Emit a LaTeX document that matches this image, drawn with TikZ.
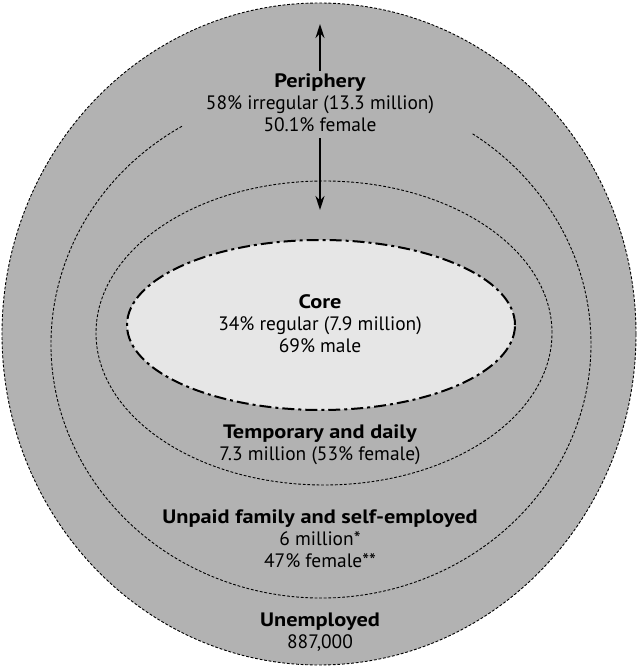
\documentclass[tikz,border=0pt]{standalone}
\usepackage{fontspec}
\setmainfont{PT Sans}[BoldFeatures={FakeStretch=1.15}]
\usetikzlibrary{arrows.meta,calc}
\definecolor{ringgray}{RGB}{178,178,178}
\definecolor{coregray}{RGB}{230,230,230}
\tikzset{
  fineline/.style={line width=0.9bp, dash pattern=on 2.8bp off 1.8bp},
  coreline/.style={line width=2bp, dash pattern=on 12bp off 4bp on 3bp off 4bp},
  label/.style={align=center, font=\fontsize{19.5}{22}\selectfont, inner sep=0pt},
  flow/.style={line width=1.8bp, -{Stealth[length=14bp, width=9bp]}},
}
\begin{document}
\begin{tikzpicture}[x=1bp, y=1bp]
\useasboundingbox (0,0) rectangle (638,667);
% outer ring: the whole labour force
\fill[ringgray] (319,333) ellipse[x radius=317, y radius=331];
\draw[fineline] (319,333) ellipse[x radius=317, y radius=331];
% boundary between periphery and self-employed, open at the top for the label
\coordinate (c2) at (321,323);
\draw[fineline] ($(c2)+(121:270 and 254)$) arc[start angle=121, end angle=416, x radius=270, y radius=254];
% boundary of temporary and daily workers
\draw[fineline] (324,334) ellipse[x radius=228, y radius=152];
% core of regular workers
\draw[coreline, fill=coregray] (321,342) ellipse[x radius=194, y radius=85];
% labels
\node[label] (periphery) at (320,564) {\textbf{Periphery}\\58\% irregular (13.3 million)\\50.1\% female};
\node[label] (core) at (320,343) {\textbf{Core}\\34\% regular (7.9 million)\\69\% male};
\node[label] (temp) at (320,222) {\textbf{Temporary and daily}\\7.3 million (53\% female)};
\node[label] (unpaid) at (320,128) {\textbf{Unpaid family and self-employed}\\6 million*\\47\% female**};
\node[label] (unemp) at (320,35) {\textbf{Unemployed}\\887,000};
% arrows pointing outward and inward from the periphery
\coordinate (upend) at (320,643);
\coordinate (downend) at (320,457);
\draw[flow] (periphery.north -| upend) ++(0,3) -- (upend);
\draw[flow] (periphery.south -| downend) ++(0,-6) -- (downend);
\end{tikzpicture}
\end{document}
